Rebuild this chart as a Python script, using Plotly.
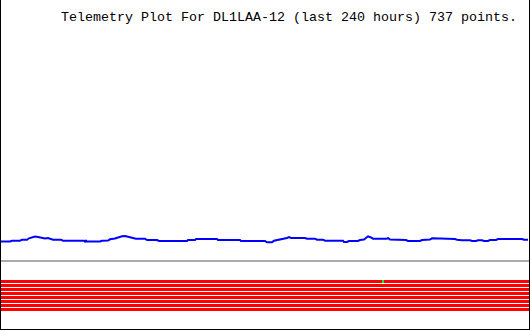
import plotly.graph_objects as go

# ---- data -------------------------------------------------------------
title_text = "Telemetry Plot For DL1LAA-12 (last 240 hours) 737 points."
span_hours = 240

# analog channel (arbitrary units), sampled at these hours
analog_hours = [
    0, 4.09, 5.0, 8.64, 9.55, 11.82, 12.73, 14.09, 15.45, 16.82,
    18.64, 20.0, 21.36, 22.27, 23.64, 27.27, 28.18, 37.73, 38.18, 38.64,
    39.09, 45.0, 45.91, 48.64, 49.55, 51.82, 53.18, 55.0, 56.36, 57.73,
    60.0, 61.36, 65.45, 66.36, 70.91, 71.82, 84.55, 85.0, 88.18, 88.64,
    98.18, 98.64, 108.64, 109.09, 120.0, 120.91, 123.18, 124.09, 125.91, 126.82,
    129.09, 130.0, 130.91, 131.82, 138.18, 139.09, 142.73, 143.64, 146.36, 147.27,
    155.45, 155.91, 157.27, 158.18, 162.27, 163.18, 165.0, 165.91, 166.82, 168.18,
    169.09, 175.45, 175.91, 176.82, 179.09, 180.0, 184.09, 185.0, 190.45, 191.36,
    195.0, 195.91, 198.18, 199.09, 206.36, 207.27, 208.64, 209.55, 213.18, 214.09,
    215.91, 216.82, 218.64, 219.55, 221.36, 222.27, 225.0, 225.91, 236.82, 237.73,
    239.55,
]
analog_values = [
    88.5, 88.5, 89.3, 89.3, 90.3, 90.3, 91.7, 92.7, 93.5, 93.0,
    92.5, 91.5, 92.0, 91.3, 90.3, 90.3, 89.3, 89.3, 88.3, 89.3,
    88.5, 88.5, 89.3, 89.5, 90.7, 91.5, 92.5, 93.7, 94.0, 93.0,
    92.0, 91.3, 91.3, 90.0, 90.0, 89.0, 89.0, 90.0, 90.0, 91.0,
    91.0, 90.0, 90.0, 89.0, 89.0, 87.7, 87.7, 89.3, 90.0, 91.0,
    91.7, 92.0, 93.0, 92.0, 92.0, 91.3, 91.3, 90.3, 90.3, 89.3,
    89.3, 88.0, 88.0, 89.0, 89.0, 90.0, 90.5, 92.5, 93.7, 92.5,
    91.3, 91.3, 92.0, 90.5, 90.3, 90.0, 90.0, 89.0, 89.0, 90.0,
    90.5, 91.7, 91.7, 91.0, 91.0, 90.3, 90.0, 89.7, 89.7, 89.0,
    89.0, 89.7, 89.7, 89.0, 89.0, 90.0, 90.0, 91.0, 91.0, 90.3,
    90.3,
]

separator_level = 69.0
digital_lanes = [48.5, 44.5, 40.5, 36.5, 32.5, 28.5, 24.5, 20.5]   # bits 1..8, all set
bit_event_lane = 48.5
bit_event_hours = [173.18, 174.09]

# ---- figure -----------------------------------------------------------
px_per_hour = 528 / span_hours
x_lo = -1 / px_per_hour
x_hi = x_lo + 530 / px_per_hour

fig = go.Figure()

# separator
fig.add_trace(go.Scatter(x=[0, span_hours], y=[separator_level] * 2, mode="lines",
                         line=dict(color="#aaaaaa", width=2), hoverinfo="skip"))

# digital lanes
for lane in digital_lanes:
    fig.add_trace(go.Scatter(x=[0, span_hours], y=[lane, lane], mode="lines",
                             line=dict(color="#ff0000", width=3), hoverinfo="skip"))

fig.add_trace(go.Scatter(x=bit_event_hours, y=[bit_event_lane] * 2, mode="lines",
                         line=dict(color="#00ff00", width=3), hoverinfo="skip"))

# analog
fig.add_trace(go.Scatter(x=analog_hours, y=analog_values, mode="lines",
                         line=dict(color="#0000ff", width=2), hoverinfo="skip"))

W, H = 530, 330
shapes = [
    dict(type="line", xref="paper", yref="paper", x0=0.5 / W, x1=0.5 / W, y0=0, y1=1,
         line=dict(color="black", width=1)),
    dict(type="line", xref="paper", yref="paper", x0=529.5 / W, x1=529.5 / W, y0=0, y1=1,
         line=dict(color="black", width=1)),
    dict(type="line", xref="paper", yref="paper", x0=0, x1=1, y0=0.5 / H, y1=0.5 / H,
         line=dict(color="black", width=1)),
]

fig.update_layout(
    width=W, height=H, margin=dict(l=0, r=0, t=0, b=0, pad=0),
    paper_bgcolor="white", plot_bgcolor="white", showlegend=False,
    xaxis=dict(range=[x_lo, x_hi], visible=False, fixedrange=True),
    yaxis=dict(range=[0, H], visible=False, fixedrange=True),
    shapes=shapes,
    annotations=[dict(text=title_text, xref="paper", yref="paper",
                      x=60 / W, y=1 - 17.5 / H, xanchor="left", yanchor="middle",
                      showarrow=False, borderpad=0,
                      font=dict(family="Liberation Mono", size=13.33, color="black"))],
)

fig.write_html("out.html", config={"displayModeBar": False, "staticPlot": True})
